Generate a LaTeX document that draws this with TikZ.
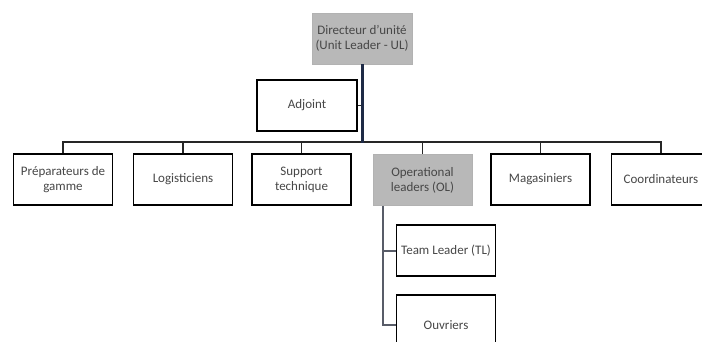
\documentclass[tikz,border=0pt]{standalone}
\usepackage{fontspec}
\setmainfont{Carlito}
\definecolor{mainln}{RGB}{30,42,70}
\definecolor{subln}{RGB}{88,92,104}
\begin{document}
\begin{tikzpicture}[x=1pt,y=-1pt,
  box/.style={draw=black, line width=1.6pt, fill=white, minimum width=99pt, minimum height=51pt, align=center, font=\fontsize{13}{15}\selectfont, text=black!72, inner sep=1pt},
  graybox/.style={box, draw=black!30, line width=0.8pt, fill=black!28},
  link/.style={draw=black!85, line width=1.6pt},
  main/.style={draw=mainln, line width=3pt},
  sub/.style={draw=subln, line width=2pt}]
\useasboundingbox (0,0) rectangle (702,342);
\clip (0,0) rectangle (702,342);
\node[graybox, minimum width=100pt] (dir) at (362,38.5) {Directeur d'unité\\(Unit Leader - UL)};
\node[box, minimum width=100pt] (adj) at (307,105.5) {Adjoint};
\coordinate (bus) at (362,143);
\node[box] (prep) at (63,179.5) {Préparateurs de\\gamme};
\node[box] (log) at (183,179.5) {Logisticiens};
\node[box] (sup) at (301.5,179.5) {Support\\technique};
\node[graybox, minimum width=99pt] (ol) at (422.5,180) {Operational\\leaders (OL)};
\node[box] (mag) at (540.5,179.5) {Magasiniers};
\node[box] (coo) at (661,179.5) {Coordinateurs};
\node[box] (tl) at (446,250.5) {Team Leader (TL)};
\node[box, minimum height=60pt] (ouv) at (446,325) {Ouvriers};
% bus
\draw[link] (prep.north) -- ++(0,-11) -| (coo.north);
\draw[link] (log.north) -- ++(0,-11);
\draw[link] (sup.north) -- ++(0,-11);
\draw[link] (ol.north) -- ++(0,-11.5);
\draw[link] (mag.north) -- ++(0,-11);
\draw[link] (adj.east) -- (adj.east -| dir.south);
\draw[main] (dir.south) -- (bus);
% sub
\draw[sub] (ol.south -| 383,0) coordinate (olb) -- (olb |- ouv.west) -- (ouv.west);
\draw[sub] (olb |- tl.west) -- (tl.west);
\end{tikzpicture}
\end{document}
